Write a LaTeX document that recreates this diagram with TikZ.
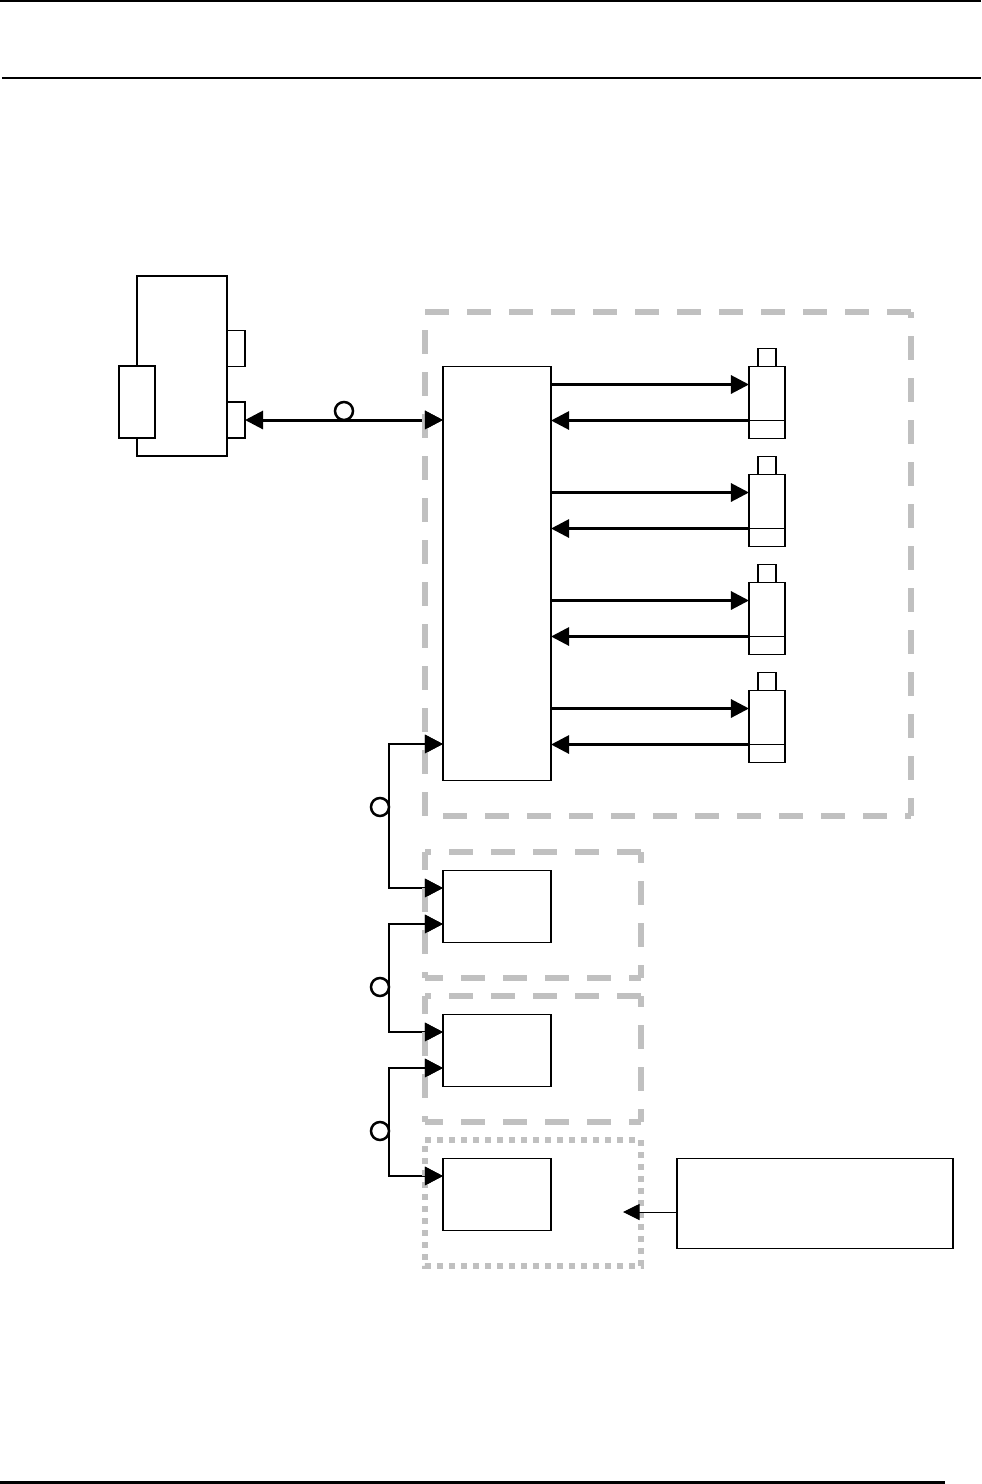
\documentclass[tikz,border=0pt]{standalone}
\usepackage{tikz}
\usetikzlibrary{arrows.meta,calc}
\definecolor{boxgray}{RGB}{192,192,192}
\tikzset{
    block/.style={draw,rectangle,inner sep=0,outer sep=0,line width=0.016cm},
    ring/.style={draw,circle,inner sep=0,outer sep=0,minimum size=0.18cm,line width=0.025cm},
    busline/.style={line width=0.03cm,{Triangle[length=0.18cm,width=0.18cm]}-{Triangle[length=0.18cm,width=0.18cm]}},
    tipline/.style={line width=0.03cm,-{Triangle[length=0.18cm,width=0.18cm]}},
    noteline/.style={line width=0.01cm,-{Triangle[length=0.165cm,width=0.16cm]}},
    dashside/.style={boxgray,line width=0.06cm,dash pattern=on 0.24cm off 0.18cm},
    dotside/.style={boxgray,line width=0.06cm,dash pattern=on 0.06cm off 0.06cm},
}
\newcommand{\tipat}[1]{\draw[tipline] ($#1+(-17,0)$) -- #1;}
\begin{document}
\begin{tikzpicture}[x=0.01cm,y=-0.01cm]
    \useasboundingbox (0,0) rectangle (981,1484);
    \draw[line width=0.02cm] (0,1) -- (981,1);
    \draw[line width=0.02cm] (2,78) -- (981,78);
    \draw[line width=0.03cm] (0,1482.5) -- (945,1482.5);

    \node[block,minimum width=0.9cm,minimum height=1.8cm] (host) at (182,366) {};
    \node[block,fill=white,minimum width=0.36cm,minimum height=0.72cm] (hostslot) at (137,402) {};
    \node[block,minimum width=0.18cm,minimum height=0.36cm] (hostporta) at (236,348.5) {};
    \node[block,minimum width=0.18cm,minimum height=0.36cm] (hostportb) at (236,420) {};

    \node[block,minimum width=1.08cm,minimum height=4.14cm] (mainbox) at (497,573.5) {};
    \node[block,minimum width=1.08cm,minimum height=0.72cm] (boxa) at (497,906.5) {};
    \node[block,minimum width=1.08cm,minimum height=0.72cm] (boxb) at (497,1050.5) {};
    \node[block,minimum width=1.08cm,minimum height=0.72cm] (boxc) at (497,1194.5) {};
    \node[block,minimum width=2.76cm,minimum height=0.9cm] (notebox) at (815,1203.5) {};

    \foreach \n/\y in {a/366.5,b/474.5,c/582.5,d/690.5} {
        \node[block,minimum width=0.36cm,minimum height=0.72cm] (cam\n) at (767,\y+36) {};
        \node[block,minimum width=0.18cm,minimum height=0.18cm] (lens\n) at (767,\y-9) {};
        \coordinate (out\n) at (749,\y+18);
        \coordinate (in\n) at (749,\y+54);
        \draw[line width=0.01cm] (in\n) -- (cam\n.east |- in\n);
        \draw[tipline] (mainbox.east |- out\n) -- (out\n);
        \draw[tipline] (in\n) -- (mainbox.east |- in\n);
    }

    \draw[busline] (hostportb.east) -- (mainbox.west |- hostportb.east);

    \coordinate (busa) at (389,744);
    \coordinate (busb) at (389,888);
    \coordinate (busc) at (389,924);
    \coordinate (busd) at (389,1032);
    \coordinate (buse) at (389,1068);
    \coordinate (busf) at (389,1176);
    \draw[busline,line width=0.028cm] (mainbox.west |- busa) -- (busa) -- (busb) -- (boxa.west |- busb);
    \draw[busline,line width=0.028cm] (boxa.west |- busc) -- (busc) -- (busd) -- (boxb.west |- busd);
    \draw[busline,line width=0.028cm] (boxb.west |- buse) -- (buse) -- (busf) -- (boxc.west |- busf);

    \node[ring] (ringa) at (344,411) {};
    \node[ring] (ringb) at (380,807) {};
    \node[ring] (ringc) at (380,987) {};
    \node[ring] (ringd) at (380,1131) {};

    \draw[dashside] (425,312) -- (911,312);
    \draw[dashside,dash phase=0.18cm] (911,312) -- (911,816);
    \draw[dashside,dash phase=0.24cm] (425,312) -- (425,816);
    \draw[dashside,dash phase=0.24cm] (425,816) -- (911,816);
    \foreach \y in {852,996} {
        \draw[dashside,dash phase=0.18cm] (425,\y) -- (641,\y);
        \draw[dashside,dash phase=0.13cm] (641,\y) -- (641,\y+126);
        \draw[dashside,dash phase=0.06cm] (425,\y) -- (425,\y+126);
        \draw[dashside,dash phase=0.06cm] (425,\y+126) -- (641,\y+126);
    }
    \draw[dotside] (425,1140) -- (641,1140) -- (641,1266) -- (425,1266) -- cycle;

    \tipat{(mainbox.west |- hostportb.east)}
    \tipat{(mainbox.west |- busa)}
    \tipat{(boxa.west |- busb)}
    \tipat{(boxa.west |- busc)}
    \tipat{(boxb.west |- busd)}
    \tipat{(boxb.west |- buse)}
    \tipat{(boxc.west |- busf)}

    \coordinate (noteend) at (623,1212);
    \draw[noteline] (notebox.west |- noteend) -- (noteend);
\end{tikzpicture}
\end{document}
